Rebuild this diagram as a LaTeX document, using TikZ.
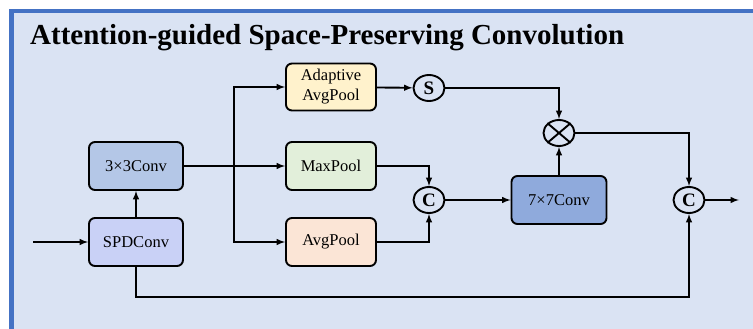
\documentclass[tikz,border=0pt]{standalone}
\usepackage{fontspec}
\setmainfont{Liberation Serif}
\usetikzlibrary{arrows}
\usetikzlibrary{calc}
\usetikzlibrary{shapes.geometric}

\definecolor{panelbg}{HTML}{DAE3F3}
\definecolor{panelframe}{HTML}{4472C4}
\definecolor{convfill}{HTML}{B4C7E7}
\definecolor{spdfill}{HTML}{C9D1F6}
\definecolor{adaptfill}{HTML}{FFF2CC}
\definecolor{maxfill}{HTML}{E2EFDA}
\definecolor{avgfill}{HTML}{FBE5D6}
\definecolor{bigconvfill}{HTML}{8FAADC}

\begin{document}
\begin{tikzpicture}[x=1pt,y=-1pt,font=\fontsize{16.5}{20}\selectfont,
	block/.style={draw,line width=1.9pt,rounded corners=6pt,minimum width=94pt,minimum height=48pt,align=center,inner sep=2pt},
	op/.style={draw,ellipse,line width=1.9pt,fill=panelbg,minimum width=31pt,minimum height=26pt,inner sep=0pt,font=\fontsize{19}{19}\selectfont\bfseries},
	link/.style={line width=1.9pt,-latex}]
	% page and panel
	\useasboundingbox (0,0) rectangle (753,329);
	\clip (0,0) rectangle (753,329);
	\fill[white] (0,0) rectangle (753,329);
	\draw[line width=4.5pt,draw=panelframe,fill=panelbg] (11.25,11.25) rectangle (780,350);
	\node[anchor=base west,inner sep=0pt,font=\fontsize{29}{29}\selectfont\bfseries] (title) at (30,45) {Attention-guided Space-Preserving Convolution};
	% blocks
	\node[block,fill=convfill] (conv3) at (136,166) {3\texttimes3Conv};
	\node[block,fill=spdfill] (spd) at (136,242) {SPDConv};
	\node[block,fill=adaptfill,minimum width=90pt,minimum height=47pt] (adapt) at (331,87) {Adaptive\\AvgPool};
	\node[block,fill=maxfill,minimum width=90pt] (maxp) at (331,166) {MaxPool};
	\node[block,fill=avgfill,minimum width=90pt] (avgp) at (331,242) {AvgPool};
	\node[block,fill=bigconvfill,minimum width=95pt] (conv7) at (559,200) {7\texttimes7Conv};
	% operators
	\node[op] (sig) at (429,88) {S};
	\node[op] (cat1) at (429,200) {C};
	\node[op] (mul) at (559,133) {};
	\draw[line width=1.9pt] (mul.north west) -- (mul.south east) (mul.north east) -- (mul.south west);
	\node[op] (cat2) at (689,200) {C};
	\coordinate (in) at (33,242);
	\coordinate (out) at (739,200);
	\coordinate (split) at (234,166);
	% connectors
	\draw[link] (in) -- (spd);
	\draw[link] (spd) -- (conv3);
	\draw[link] (conv3) -- (maxp);
	\draw[link] (split) |- (adapt);
	\draw[link] (split) |- (avgp);
	\draw[link] (adapt) -- (sig);
	\draw[link] (sig) -| (mul);
	\draw[link] (maxp) -| (cat1);
	\draw[link] (avgp) -| (cat1);
	\draw[link] (cat1) -- (conv7);
	\draw[link] (conv7) -- (mul);
	\draw[link] (mul) -| (cat2);
	\draw[link] (cat2) -- (out);
	\draw[link] (spd.south) -- ++(0,30) -| (cat2.south);
\end{tikzpicture}
\end{document}
